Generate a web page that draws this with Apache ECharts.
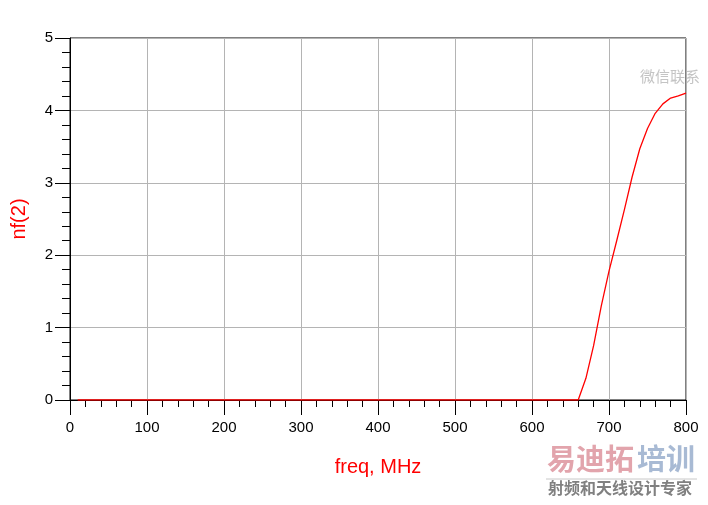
<!DOCTYPE html>
<html>
<head>
<meta charset="utf-8">
<script src="https://cdn.jsdelivr.net/npm/echarts@6/dist/echarts.min.js"></script>
<style>
html,body{margin:0;padding:0;background:#fff;}
#chart{width:708px;height:505px;}
</style>
</head>
<body>
<div id="chart"></div>
<script>
// frequency in MHz
var freq = [10,20,30,40,50,60,70,80,90,100,110,120,130,140,150,160,170,180,190,200,
  210,220,230,240,250,260,270,280,290,300,310,320,330,340,350,360,370,380,390,400,
  410,420,430,440,450,460,470,480,490,500,510,520,530,540,550,560,570,580,590,600,
  610,620,630,640,650,660,670,680,690,700,710,720,730,740,750,760,770,780,790,800];
// noise figure nf(2)
var nf = [0,0,0,0,0,0,0,0,0,0,0,0,0,0,0,0,0,0,0,0,
  0,0,0,0,0,0,0,0,0,0,0,0,0,0,0,0,0,0,0,0,
  0,0,0,0,0,0,0,0,0,0,0,0,0,0,0,0,0,0,0,0,
  0,0,0,0,0,0,0.30,0.75,1.30,1.78,2.20,2.63,3.08,3.47,3.75,3.96,4.09,4.17,4.20,4.24];
var xTicks = ['0','100','200','300','400','500','600','700','800'];
var yTicks = ['0','1','2','3','4','5'];

var chart = echarts.init(document.getElementById('chart'), null, {renderer:'canvas'});
var font = 'Liberation Sans, Arial, sans-serif';
chart.setOption({
  animation:false,
  backgroundColor:'#fff',
  grid:{left:70, right:22, top:38, bottom:105, outerBoundsMode:'none', containLabel:false,
    show:true, borderColor:'#000', borderWidth:1, backgroundColor:'transparent'},
  xAxis:{
    type:'value', min:0, max:800, interval:100,
    name:'freq, MHz', nameLocation:'middle', nameGap:57,
    nameTextStyle:{color:'#ff0000', fontSize:20, fontFamily:font},
    axisLine:{show:true, lineStyle:{color:'#000', width:1}},
    axisTick:{show:true, length:15, inside:false, lineStyle:{color:'#000'}},
    minorTick:{show:true, splitNumber:5, length:7, lineStyle:{color:'#000'}},
    splitLine:{show:true, lineStyle:{color:'#b4b4b4', width:1}},
    axisLabel:{color:'#000', fontSize:15, fontFamily:font, margin:20,
      formatter:function(v){ return xTicks[Math.round(v/100)]; }}
  },
  yAxis:{
    type:'value', min:0, max:5, interval:1,
    name:'nf(2)', nameLocation:'middle', nameGap:41, nameRotate:90,
    nameTextStyle:{color:'#ff0000', fontSize:20, fontFamily:font},
    axisLine:{show:true, lineStyle:{color:'#000', width:1}},
    axisTick:{show:true, length:15, inside:false, lineStyle:{color:'#000'}},
    minorTick:{show:true, splitNumber:5, length:8, lineStyle:{color:'#000'}},
    splitLine:{show:true, lineStyle:{color:'#b4b4b4', width:1}},
    axisLabel:{color:'#000', fontSize:15, fontFamily:font, margin:17,
      formatter:function(v){ return yTicks[Math.round(v)]; }}
  },
  series:[{
    type:'line', showSymbol:false, symbol:'none',
    lineStyle:{color:'#ff0000', width:1.3},
    data: freq.map(function(f,i){ return [f, nf[i]]; })
  }],
  graphic:[
    {type:'text', left:640, top:69, style:{text:'微信联系', fill:'#c4c4c4', font:'15px "Noto Sans CJK SC"', letterSpacing:3}},
    {type:'text', left:547, top:444, style:{text:'易迪拓', fill:'#e2a4ac', font:'bold 29px "Noto Sans CJK SC"'}},
    {type:'text', left:637, top:444, style:{text:'培训', fill:'#a8bad4', font:'bold 29px "Noto Sans CJK SC"'}},
    {type:'line', shape:{x1:546, y1:479, x2:697, y2:479}, style:{stroke:'#c8c8c8', lineWidth:1}},
    {type:'text', left:548, top:480, style:{text:'射频和天线设计专家', fill:'#808080', font:'bold 16px "Noto Sans CJK SC"', letterSpacing:0.8}}
  ]
});
</script>
</body>
</html>
